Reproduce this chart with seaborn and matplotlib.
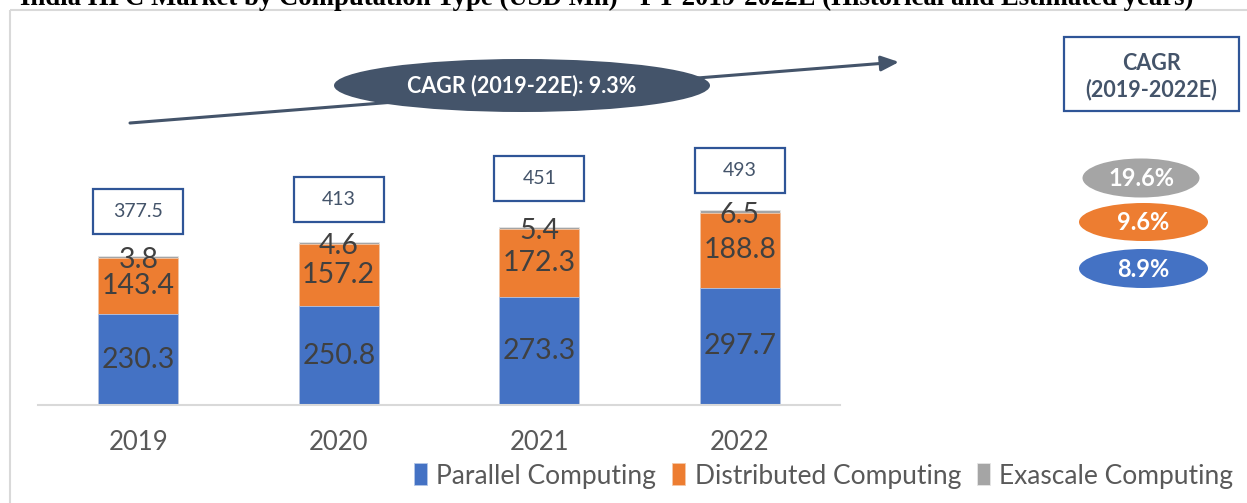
import numpy as np
import pandas as pd
import matplotlib
matplotlib.use("Agg")
import matplotlib.pyplot as plt
from matplotlib.patches import Ellipse, Rectangle
import seaborn as sns

# ---- data ----
years = ["2019", "2020", "2021", "2022"]
parallel = [230.3, 250.8, 273.3, 297.7]
distributed = [143.4, 157.2, 172.3, 188.8]
exascale = [3.8, 4.6, 5.4, 6.5]
totals = [377.5, 413, 451, 493]
total_labels = ["377.5", "413", "451", "493"]
series_names = ["Parallel Computing", "Distributed Computing", "Exascale Computing"]
segment_cagr = ["8.9%", "9.6%", "19.6%"]
overall_cagr = "CAGR (2019-22E): 9.3%"
title = "India HPC Market by Computation Type (USD Mn) - FY 2019-2022E (Historical and Estimated years)"

# ---- style ----
BLUE, ORANGE, GRAY = "#4472C4", "#ED7D31", "#A5A5A5"
SLATE = "#44546A"
BOXBLUE = "#2F5597"
sns.set_style("white")
plt.rcParams["font.family"] = ["Lato", "DejaVu Sans"]

W, H = 1247, 503
fig = plt.figure(figsize=(W / 100, H / 100), dpi=100)

# main axes placed in pixel terms
ax_left, ax_right, ax_base, ax_top = 38, 840, 405.3, 20
ax = fig.add_axes([ax_left / W, 1 - ax_base / H, (ax_right - ax_left) / W, (ax_base - ax_top) / H])

df = pd.DataFrame({
    "Year": years,
    "p": parallel,
    "pd": np.array(parallel) + np.array(distributed),
    "pde": np.array(parallel) + np.array(distributed) + np.array(exascale),
})

sns.barplot(data=df, x="Year", y="pde", color=GRAY, width=0.4, saturation=1, ax=ax,
            edgecolor="#E6E6E6", linewidth=0.6)
sns.barplot(data=df, x="Year", y="pd", color=ORANGE, width=0.4, saturation=1, ax=ax,
            edgecolor="#F4C8A8", linewidth=0.6)
sns.barplot(data=df, x="Year", y="p", color=BLUE, width=0.4, saturation=1, ax=ax,
            edgecolor="#B4C7E7", linewidth=0.6)

px_per_unit = 0.3955
ax.set_ylim(0, (ax_base - ax_top) / px_per_unit)
ax.set_xlim(-0.5, 3.5)
ax.set_xlabel("")
ax.set_ylabel("")
ax.set_yticks([])
for s in ["left", "right", "top"]:
    ax.spines[s].set_visible(False)
ax.spines["bottom"].set_color("#D9D9D9")
ax.spines["bottom"].set_linewidth(1.5)
ax.tick_params(axis="x", length=0, pad=18, labelsize=18.5, labelcolor="#595959")
ax.patch.set_alpha(0)

# segment labels
for i in range(len(years)):
    p, d, e = parallel[i], distributed[i], exascale[i]
    ax.text(i, p / 2, f"{p:.1f}", ha="center", va="center", fontsize=20.5, color="#404040")
    ax.text(i, p + d / 2, f"{d:.1f}", ha="center", va="center", fontsize=20.5, color="#404040")
    ax.text(i, p + d + e / 2 - 8, f"{e:.1f}", ha="center", va="center", fontsize=20.5, color="#404040")

# total boxes
box_gap = [55, 50, 66, 44]
box_h = 114
for i in range(len(years)):
    y0 = totals[i] + box_gap[i]
    ax.add_patch(Rectangle((i - 0.225, y0), 0.45, box_h, facecolor="white",
                           edgecolor=BOXBLUE, linewidth=1.6, clip_on=False, zorder=5))
    ax.text(i, y0 + box_h / 2, total_labels[i], ha="center", va="center", fontsize=14,
            color=SLATE, zorder=6)

# overlay in pixel coordinates
ov = fig.add_axes([0, 0, 1, 1])
ov.set_xlim(0, W)
ov.set_ylim(H, 0)
ov.axis("off")
ov.patch.set_alpha(0)

# outer frame
ov.add_patch(Rectangle((10, 10), W + 50, H + 50, facecolor="none", edgecolor="#D9D9D9", linewidth=1.5))

# title (cut at top, as in the reference)
ov.text(20, 5, title, ha="left", va="baseline", fontsize=19.3, fontweight="bold",
        family=["Liberation Serif"], color="black", clip_on=False)

# CAGR arrow and ellipse
ov.annotate("", xy=(899, 62), xytext=(130, 123),
            arrowprops=dict(arrowstyle="-|>,head_length=0.4,head_width=0.17", color=SLATE,
                            lw=2.2, mutation_scale=27, shrinkA=0, shrinkB=0))
ov.add_patch(Ellipse((522, 85.5), 376, 53, facecolor=SLATE, edgecolor="none", zorder=5))
ov.text(522, 86, overall_cagr, ha="center", va="center", fontsize=15.5, fontweight="bold",
        color="white", zorder=6)

# CAGR box at right
ov.add_patch(Rectangle((1064, 37), 175, 74, facecolor="white", edgecolor=BOXBLUE, linewidth=1.6, zorder=5))
ov.text(1151.5, 63, "CAGR", ha="center", va="center", fontsize=15.5, fontweight="bold", color=SLATE, zorder=6)
ov.text(1151.5, 90, "(2019-2022E)", ha="center", va="center", fontsize=15.5, fontweight="bold", color=SLATE, zorder=6)

# segment CAGR ellipses
ell_specs = [((1143.5, 268.5), 129, 39, BLUE, segment_cagr[0]),
             ((1143.5, 222), 129, 38, ORANGE, segment_cagr[1]),
             ((1141, 178), 117, 39, GRAY, segment_cagr[2])]
for (cx, cy), ew, eh, col, lab in ell_specs:
    ov.add_patch(Ellipse((cx, cy), ew, eh, facecolor=col, edgecolor="none", zorder=5))
    ov.text(cx, cy + 1, lab, ha="center", va="center", fontsize=17, fontweight="bold",
            color="white", zorder=6)

# legend
handles = [ax.containers[2], ax.containers[1], ax.containers[0]]
fig.legend(handles, series_names, loc="center left", bbox_to_anchor=(414 / W, 1 - 476 / H),
           ncol=3, frameon=False, fontsize=19, labelcolor="#595959", handlelength=0.5,
           handleheight=0.9, handletextpad=0.35, columnspacing=0.6, borderaxespad=0, borderpad=0)

fig.savefig("out.png", dpi=100)
